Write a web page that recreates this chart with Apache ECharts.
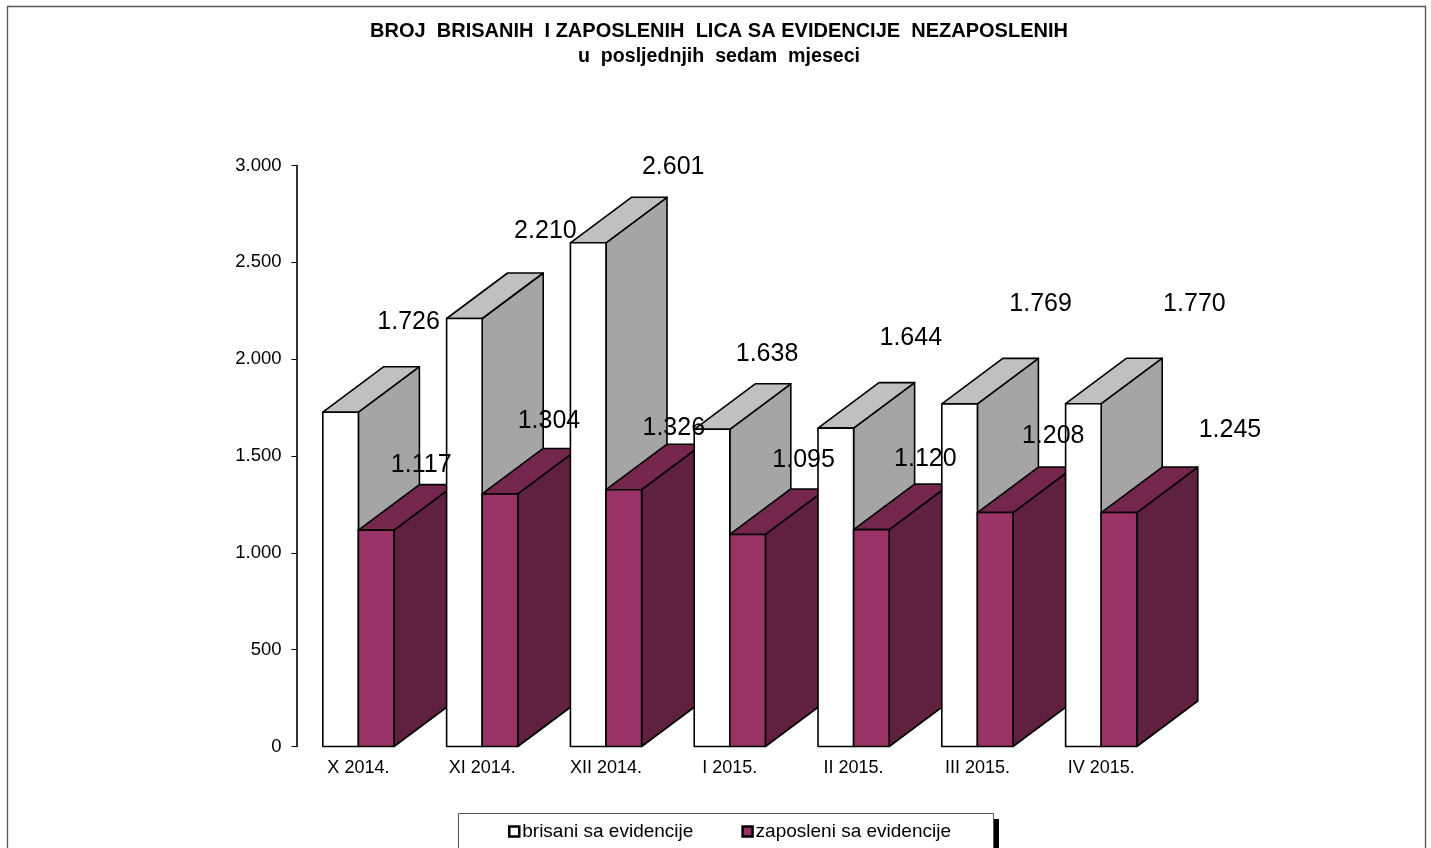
<!DOCTYPE html>
<html>
<head>
<meta charset="utf-8">
<title>Broj brisanih i zaposlenih lica</title>
<script src="https://cdn.jsdelivr.net/npm/echarts@6/dist/echarts.min.js"></script>
<style>
    html, body { margin: 0; padding: 0; background: #fff; overflow: hidden; }
    #main { width: 1431px; height: 848px; }
</style>
</head>
<body>
<div id="main"></div>
<script>
    // podaci procitani sa slike
    var months = ['X 2014.', 'XI 2014.', 'XII 2014.', 'I 2015.', 'II 2015.', 'III 2015.', 'IV 2015.'];
    var brisani = [1726, 2210, 2601, 1638, 1644, 1769, 1770];
    // zadnji stubac je na slici nacrtan u visini 1.208, iako natpis kaze 1.245
    var zaposleni = [1117, 1304, 1326, 1095, 1120, 1208, 1208];
    var brisaniLabels = ['1.726', '2.210', '2.601', '1.638', '1.644', '1.769', '1.770'];
    var zaposleniLabels = ['1.117', '1.304', '1.326', '1.095', '1.120', '1.208', '1.245'];
    var yTicks = ['0', '500', '1.000', '1.500', '2.000', '2.500', '3.000'];

    // pomjeraji natpisa u odnosu na vrh stupca (natpisi su rucno razbacani u originalu)
    var brisaniShift = [[68, -90], [81, -87], [85, -76], [55, -75], [75, -90], [81, -100], [111, -100]];
    var zaposleniShift = [[45, -65], [49, -73], [50, -62], [56, -74], [54, -70], [58, -76], [111, -82]];

    var FONT = '"Liberation Sans", Arial, sans-serif';
    var DEPTH_X = 61, DEPTH_Y = 45.5;
    var BAR_RATIO = 0.2875;

    function box3d(params, api, side, colors, labels, shifts) {
        var i = api.value(0);
        var base = api.coord([i, 0]);
        var top = api.coord([i, api.value(1)]);
        var w = api.size([1, 0])[0] * BAR_RATIO;
        var x0 = side < 0 ? base[0] - w : base[0];
        var x1 = x0 + w;
        var y0 = top[1], y1 = base[1];
        var z = i * 2 + (side < 0 ? 0 : 1);
        var line = { stroke: '#000', lineWidth: 1.6, lineJoin: 'round' };

        function poly(points, fill) {
            return {
                type: 'polygon',
                z2: z,
                shape: { points: points },
                style: { fill: fill, stroke: line.stroke, lineWidth: line.lineWidth, lineJoin: line.lineJoin }
            };
        }

        return {
            type: 'group',
            children: [
                poly([[x1, y1], [x1 + DEPTH_X, y1 - DEPTH_Y], [x1 + DEPTH_X, y0 - DEPTH_Y], [x1, y0]], colors.side),
                poly([[x0, y0], [x0 + DEPTH_X, y0 - DEPTH_Y], [x1 + DEPTH_X, y0 - DEPTH_Y], [x1, y0]], colors.top),
                poly([[x0, y1], [x1, y1], [x1, y0], [x0, y0]], colors.front),
                {
                    type: 'text',
                    z2: 100,
                    x: (x0 + x1) / 2 + shifts[i][0],
                    y: y0 + shifts[i][1],
                    style: {
                        text: labels[i],
                        fill: '#000',
                        font: '25px ' + FONT,
                        align: 'center',
                        verticalAlign: 'middle'
                    }
                }
            ]
        };
    }

    function pairs(values) {
        return values.map(function (v, i) { return [i, v]; });
    }

    var whiteColors = { front: '#ffffff', top: '#c0c0c0', side: '#a5a5a5' };
    var purpleColors = { front: '#993366', top: '#74264d', side: '#60203f' };

    var myChart = echarts.init(document.getElementById('main'), null, { renderer: 'canvas' });
    myChart.setOption({
        animation: false,
        backgroundColor: '#fff',
        title: {
            text: 'BROJ  BRISANIH  I ZAPOSLENIH  LICA SA EVIDENCIJE  NEZAPOSLENIH',
            subtext: 'u  posljednjih  sedam  mjeseci',
            left: 719,
            top: 21,
            textAlign: 'center',
            itemGap: 6,
            padding: 0,
            textStyle: { fontFamily: FONT, fontSize: 20, fontWeight: 'bold', color: '#000' },
            subtextStyle: { fontFamily: FONT, fontSize: 19.6, fontWeight: 'bold', color: '#000' }
        },
        graphic: [
            {
                type: 'rect',
                z: -10,
                shape: { x: 7.5, y: 6.5, width: 1418, height: 860 },
                style: { fill: 'none', stroke: '#555', lineWidth: 1.3 }
            },
            {
                type: 'rect',
                z: -10,
                shape: { x: 994, y: 819, width: 5, height: 40 },
                style: { fill: '#000' }
            },
            {
                type: 'rect',
                z: -9,
                shape: { x: 458.5, y: 813.5, width: 535, height: 50 },
                style: { fill: '#fff', stroke: '#555', lineWidth: 1 }
            }
        ],
        legend: {
            left: 508,
            top: 822,
            padding: 0,
            itemWidth: 10,
            itemHeight: 10,
            itemGap: 48,
            selectedMode: false,
            textStyle: { fontFamily: FONT, fontSize: 19, color: '#000', padding: [0, 0, 0, -2] },
            data: [
                { name: 'brisani sa evidencije', icon: 'rect', itemStyle: { color: '#fff', borderColor: '#000', borderWidth: 2.5 } },
                { name: 'zaposleni sa evidencije', icon: 'rect', itemStyle: { color: '#993366', borderColor: '#000', borderWidth: 2.5 } }
            ]
        },
        grid: { left: 296.5, top: 165.5, width: 866.6, height: 581 },
        xAxis: {
            type: 'category',
            data: months,
            axisLine: { show: false },
            axisTick: { show: false },
            axisLabel: { fontFamily: FONT, fontSize: 18, color: '#000', margin: 13, interval: 0 }
        },
        yAxis: {
            type: 'value',
            min: 0,
            max: 3000,
            interval: 500,
            splitLine: { show: false },
            axisLine: { show: true, lineStyle: { color: '#000', width: 1.6 } },
            axisTick: { show: true, length: 5, lineStyle: { color: '#000', width: 1 } },
            axisLabel: {
                fontFamily: FONT,
                fontSize: 18.5,
                color: '#000',
                margin: 15,
                padding: [3, 0, 0, 0],
                formatter: function (v) { return yTicks[v / 500]; }
            }
        },
        series: [
            {
                name: 'brisani sa evidencije',
                type: 'custom',
                clip: false,
                silent: true,
                encode: { x: 0, y: 1 },
                data: pairs(brisani),
                renderItem: function (params, api) {
                    return box3d(params, api, -1, whiteColors, brisaniLabels, brisaniShift);
                }
            },
            {
                name: 'zaposleni sa evidencije',
                type: 'custom',
                clip: false,
                silent: true,
                encode: { x: 0, y: 1 },
                data: pairs(zaposleni),
                renderItem: function (params, api) {
                    return box3d(params, api, 1, purpleColors, zaposleniLabels, zaposleniShift);
                }
            }
        ]
    });
</script>
</body>
</html>
